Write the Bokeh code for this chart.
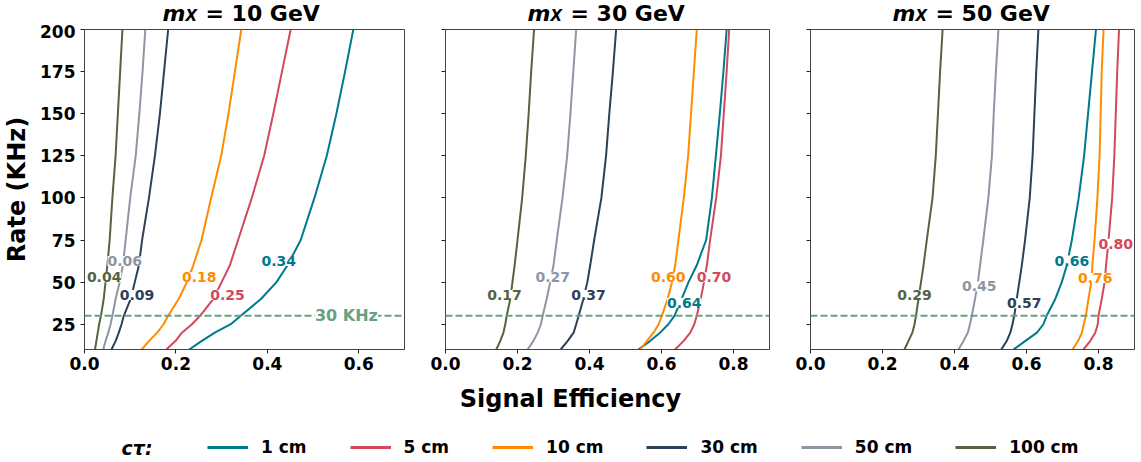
import numpy as np
from bokeh.plotting import figure
from bokeh.models import (Range1d, FixedTicker, PrintfTickFormatter, Span, Label, LabelSet,
                          ColumnDataSource, Legend, LegendItem)
from bokeh.core.properties import value
from bokeh.layouts import row, column
from bokeh.embed import file_html
from bokeh.resources import INLINE

# ---------------- data ----------------
rate = [10, 15, 20, 25, 30, 40, 50, 60, 75, 100, 125, 150, 175, 200]  # KHz
ctau_labels = ["1 cm", "5 cm", "10 cm", "30 cm", "50 cm", "100 cm"]
colors = ["#00798c", "#d1495b", "#ff8c00", "#2e4057", "#8d96a3", "#55633f"]
mx_values = [10, 30, 50]
x_max = [0.7, 0.9, 0.9]
x_ticks_m10 = [0.0, 0.2, 0.4, 0.6]
x_ticks_m30 = [0.0, 0.2, 0.4, 0.6, 0.8]
x_ticks_m50 = [0.0, 0.2, 0.4, 0.6, 0.8]
y_ticks = [25, 50, 75, 100, 125, 150, 175, 200]
rate_limit = 30

# m_X = 10 GeV : signal efficiency at each rate
eff_m10_1cm = [0.229, 0.256, 0.285, 0.320, 0.342, 0.386, 0.420, 0.444, 0.473, 0.503, 0.530, 0.551, 0.570, 0.588]
eff_m10_5cm = [0.179, 0.199, 0.213, 0.235, 0.253, 0.282, 0.300, 0.318, 0.336, 0.366, 0.393, 0.413, 0.432, 0.451]
eff_m10_10cm = [0.125, 0.141, 0.159, 0.173, 0.183, 0.206, 0.224, 0.238, 0.256, 0.277, 0.299, 0.315, 0.329, 0.343]
eff_m10_30cm = [0.059, 0.068, 0.075, 0.081, 0.086, 0.101, 0.110, 0.119, 0.126, 0.141, 0.154, 0.165, 0.174, 0.183]
eff_m10_50cm = [0.041, 0.046, 0.052, 0.057, 0.061, 0.068, 0.077, 0.084, 0.090, 0.100, 0.112, 0.120, 0.127, 0.133]
eff_m10_100cm = [0.023, 0.026, 0.029, 0.032, 0.036, 0.042, 0.046, 0.050, 0.055, 0.061, 0.068, 0.073, 0.078, 0.083]

# m_X = 30 GeV
eff_m30_1cm = [0.536, 0.568, 0.596, 0.619, 0.636, 0.656, 0.675, 0.698, 0.724, 0.740, 0.751, 0.762, 0.772, 0.781]
eff_m30_5cm = [0.638, 0.661, 0.680, 0.691, 0.698, 0.709, 0.718, 0.726, 0.735, 0.752, 0.765, 0.773, 0.781, 0.788]
eff_m30_10cm = [0.541, 0.559, 0.578, 0.592, 0.601, 0.617, 0.629, 0.638, 0.647, 0.662, 0.674, 0.682, 0.690, 0.698]
eff_m30_30cm = [0.320, 0.339, 0.356, 0.363, 0.370, 0.383, 0.394, 0.402, 0.413, 0.433, 0.446, 0.455, 0.465, 0.474]
eff_m30_50cm = [0.228, 0.244, 0.256, 0.265, 0.270, 0.281, 0.291, 0.300, 0.309, 0.325, 0.338, 0.347, 0.355, 0.363]
eff_m30_100cm = [0.141, 0.152, 0.161, 0.166, 0.170, 0.180, 0.186, 0.192, 0.200, 0.213, 0.223, 0.231, 0.238, 0.246]

# m_X = 50 GeV
eff_m50_1cm = [0.564, 0.596, 0.629, 0.647, 0.656, 0.680, 0.698, 0.712, 0.726, 0.745, 0.760, 0.771, 0.782, 0.793]
eff_m50_5cm = [0.758, 0.777, 0.791, 0.798, 0.800, 0.809, 0.817, 0.821, 0.828, 0.838, 0.844, 0.848, 0.852, 0.857]
eff_m50_10cm = [0.728, 0.743, 0.754, 0.759, 0.765, 0.772, 0.780, 0.783, 0.789, 0.797, 0.803, 0.806, 0.809, 0.814]
eff_m50_30cm = [0.530, 0.545, 0.555, 0.561, 0.566, 0.573, 0.580, 0.587, 0.596, 0.609, 0.617, 0.622, 0.627, 0.633]
eff_m50_50cm = [0.411, 0.425, 0.437, 0.443, 0.448, 0.457, 0.465, 0.471, 0.480, 0.494, 0.504, 0.509, 0.515, 0.522]
eff_m50_100cm = [0.261, 0.272, 0.283, 0.289, 0.293, 0.300, 0.307, 0.314, 0.323, 0.339, 0.348, 0.354, 0.360, 0.367]

# efficiency at the 30 KHz working point (contour labels) and where each label sits
eff_at_30_m10 = [0.34, 0.25, 0.18, 0.09, 0.06, 0.04]
eff_at_30_m30 = [0.64, 0.70, 0.60, 0.37, 0.27, 0.17]
eff_at_30_m50 = [0.66, 0.80, 0.76, 0.57, 0.45, 0.29]
label_eff_m10 = [0.425, 0.313, 0.251, 0.115, 0.088, 0.043]
label_rate_m10 = [62.5, 42.4, 52.9, 42.4, 62.5, 52.9]
label_eff_m30 = [0.663, 0.746, 0.619, 0.397, 0.298, 0.164]
label_rate_m30 = [37.7, 52.9, 52.9, 42.4, 52.9, 42.4]
label_eff_m50 = [0.726, 0.848, 0.791, 0.594, 0.469, 0.289]
label_rate_m50 = [62.8, 72.8, 52.5, 37.5, 47.6, 42.4]

panels = [
    dict(mx=mx_values[0], xmax=x_max[0], xticks=x_ticks_m10,
         eff=[eff_m10_1cm, eff_m10_5cm, eff_m10_10cm, eff_m10_30cm, eff_m10_50cm, eff_m10_100cm],
         lab=eff_at_30_m10, lx=label_eff_m10, ly=label_rate_m10),
    dict(mx=mx_values[1], xmax=x_max[1], xticks=x_ticks_m30,
         eff=[eff_m30_1cm, eff_m30_5cm, eff_m30_10cm, eff_m30_30cm, eff_m30_50cm, eff_m30_100cm],
         lab=eff_at_30_m30, lx=label_eff_m30, ly=label_rate_m30),
    dict(mx=mx_values[2], xmax=x_max[2], xticks=x_ticks_m50,
         eff=[eff_m50_1cm, eff_m50_5cm, eff_m50_10cm, eff_m50_30cm, eff_m50_50cm, eff_m50_100cm],
         lab=eff_at_30_m50, lx=label_eff_m50, ly=label_rate_m50),
]

FONT = "DejaVu Sans"
LIMIT_COLOR = "#66a182"
TOP_H = 24
PANEL_TOP = 5
FRAME_W, FRAME_H = 324, 320
BOTTOM_AX = 30

figs = []
frame_centers = []
x_cursor = 0
for i, pd_ in enumerate(panels):
    left = 80 if i == 0 else 21
    right = 7 if i == 2 else 20
    frame_centers.append(x_cursor + left + FRAME_W / 2)
    x_cursor += left + FRAME_W + right
    p = figure(width=left + FRAME_W + right, height=PANEL_TOP + FRAME_H + BOTTOM_AX,
               x_range=Range1d(0, pd_["xmax"]), y_range=Range1d(10, 200),
               output_backend="svg", toolbar_location=None,
               min_border_left=left, min_border_right=right,
               min_border_top=PANEL_TOP, min_border_bottom=BOTTOM_AX)
    p.grid.visible = False
    p.outline_line_color = "#444444"
    p.outline_line_width = 1

    p.xaxis.ticker = FixedTicker(ticks=pd_["xticks"])
    p.xaxis.formatter = PrintfTickFormatter(format="%.1f")
    p.yaxis.ticker = FixedTicker(ticks=y_ticks)
    p.axis.major_label_text_font = FONT
    p.axis.major_label_text_font_style = "bold"
    p.axis.major_label_text_font_size = "17px"
    p.axis.major_label_text_color = "black"
    p.axis.major_tick_out = 4
    p.axis.major_tick_in = 0
    p.axis.minor_tick_line_color = None
    p.axis.axis_line_color = "#444444"
    p.axis.major_tick_line_color = "#222222"
    p.axis.major_label_standoff = 3
    if i == 0:
        p.yaxis.axis_label = "Rate (KHz)"
        p.yaxis.axis_label_text_font = FONT
        p.yaxis.axis_label_text_font_style = "bold"
        p.yaxis.axis_label_text_font_size = "24px"
        p.yaxis.axis_label_text_color = "black"
        p.yaxis.axis_label_standoff = 6
        p.yaxis.major_label_standoff = 5
    else:
        # shared y axis: ticks only, no tick labels
        p.yaxis.major_label_text_color = None
        p.yaxis.major_label_text_font_size = "1px"

    # curves
    for eff, c in zip(pd_["eff"], colors):
        p.line(eff, rate, line_color=c, line_width=2)

    # 30 KHz working point
    p.add_layout(Span(location=rate_limit, dimension="width", line_color=LIMIT_COLOR,
                      line_width=2, line_dash="7 3"))

    # contour labels
    src = ColumnDataSource(dict(x=pd_["lx"], y=pd_["ly"],
                                text=[f"{v:.2f}" for v in pd_["lab"]], color=colors))
    p.add_layout(LabelSet(x="x", y="y", text="text", source=src, text_color="color",
                          text_font=value(FONT), text_font_size="14px", text_font_style="bold",
                          text_align="center", text_baseline="middle",
                          background_fill_color="white"))
    if i == 0:
        p.add_layout(Label(x=0.573, y=rate_limit, text="30 KHz", text_font=FONT,
                           text_font_size="16px", text_font_style="bold", text_color=LIMIT_COLOR,
                           text_align="center", text_baseline="middle",
                           background_fill_color="white"))
    figs.append(p)

# top strip: panel titles  m_X = .. GeV   (coordinates are pixels, y from bottom)
t = figure(width=1141, height=TOP_H, x_range=Range1d(0, 1141), y_range=Range1d(0, TOP_H),
           output_backend="svg", toolbar_location=None, min_border=0,
           x_axis_location=None, y_axis_location=None)
t.grid.visible = False
t.outline_line_color = None
for cx, mx in zip(frame_centers, mx_values):
    t.add_layout(Label(x=cx - 80, y=11.5, text="m", text_font=FONT, text_font_size="22px",
                       text_font_style="bold italic", text_align="left",
                       text_baseline="middle", text_color="black"))
    t.add_layout(Label(x=cx - 57, y=9, text="X", text_font=FONT, text_font_size="15px",
                       text_font_style="bold italic", text_align="left",
                       text_baseline="middle", text_color="black"))
    t.add_layout(Label(x=cx - 37, y=11.5, text=f"= {mx} GeV", text_font=FONT,
                       text_font_size="22px", text_font_style="bold", text_align="left",
                       text_baseline="middle", text_color="black"))

# bottom strip: shared x label and legend (coordinates are pixels)
BOT_H = 462 - TOP_H - (PANEL_TOP + FRAME_H + BOTTOM_AX)
b = figure(width=1141, height=BOT_H, x_range=Range1d(0, 1141), y_range=Range1d(0, BOT_H),
           output_backend="svg", toolbar_location=None, min_border=0,
           x_axis_location=None, y_axis_location=None)
b.grid.visible = False
b.outline_line_color = None
b.add_layout(Label(x=570, y=BOT_H - 19, text="Signal Efficiency", text_font=FONT,
                   text_font_size="24px", text_font_style="bold", text_align="center",
                   text_baseline="middle", text_color="black"))
b.add_layout(Label(x=121, y=15, text="cτ:", text_font=FONT, text_font_size="19px",
                   text_font_style="bold italic", text_align="left", text_baseline="middle",
                   text_color="black"))
items = []
for lab, c in zip(ctau_labels, colors):
    r = b.line(x=[np.nan], y=[np.nan], line_color=c, line_width=3)
    items.append(LegendItem(label=lab, renderers=[r]))
leg = Legend(items=items, orientation="horizontal", location=(207, 5),
             label_text_font=FONT, label_text_font_style="bold", label_text_font_size="17px",
             label_text_color="black",
             glyph_width=41, glyph_height=20, label_height=20, label_standoff=13, spacing=43,
             padding=0, margin=0, border_line_color=None, background_fill_alpha=0)
b.add_layout(leg)

layout = column(t, row(*figs, spacing=0), b, spacing=0)
open("out.html", "w").write(file_html(layout, INLINE))
